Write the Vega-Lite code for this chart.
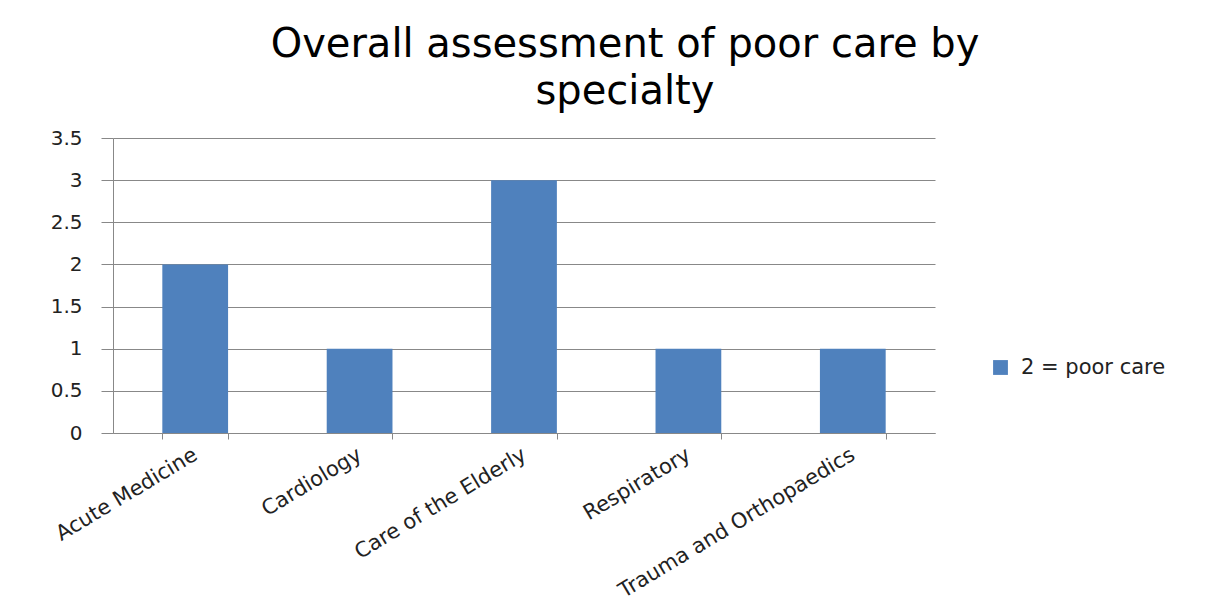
{
  "$schema": "https://vega.github.io/schema/vega-lite/v6.json",
  "width": 822,
  "height": 295,
  "autosize": "none",
  "padding": {"left": 113, "top": 138, "right": 297, "bottom": 179},
  "background": "white",
  "title": {
    "text": ["Overall assessment of poor care by", "specialty"],
    "font": "DejaVu Sans",
    "fontSize": 40,
    "fontWeight": "normal",
    "color": "#000000",
    "anchor": "middle",
    "frame": "group",
    "dx": 101,
    "offset": 16,
    "lineHeight": 47
  },
  "data": {
    "values": [
      {"specialty": "Acute Medicine", "count": 2, "series": "2 = poor care"},
      {"specialty": "Cardiology", "count": 1, "series": "2 = poor care"},
      {"specialty": "Care of the Elderly", "count": 3, "series": "2 = poor care"},
      {"specialty": "Respiratory", "count": 1, "series": "2 = poor care"},
      {"specialty": "Trauma and Orthopaedics", "count": 1, "series": "2 = poor care"}
    ]
  },
  "mark": {"type": "bar"},
  "encoding": {
    "x": {
      "field": "specialty",
      "type": "nominal",
      "sort": null,
      "scale": {"paddingInner": 0.6, "paddingOuter": 0.3},
      "axis": {
        "title": null,
        "tickBand": "extent",
        "tickSize": 6,
        "tickColor": "#888888",
        "domainColor": "#888888",
        "labelAngle": -31,
        "labelAlign": "right",
        "labelBaseline": "middle",
        "labelFont": "DejaVu Sans",
        "labelFontSize": 21,
        "labelColor": "#222222",
        "labelPadding": 14,
        "labelLimit": 0,
        "labelOverlap": false,
        "grid": false
      }
    },
    "y": {
      "field": "count",
      "type": "quantitative",
      "scale": {"domain": [0, 3.5], "nice": false},
      "axis": {
        "title": null,
        "values": [0, 0.5, 1, 1.5, 2, 2.5, 3, 3.5],
        "format": "~g",
        "grid": true,
        "gridColor": "#888888",
        "domainColor": "#888888",
        "tickColor": "#888888",
        "tickSize": 12,
        "labelPadding": 19,
        "labelFont": "DejaVu Sans",
        "labelFontSize": 20,
        "labelColor": "#222222"
      }
    },
    "color": {
      "field": "series",
      "type": "nominal",
      "scale": {"range": ["#4F81BD"]},
      "legend": {
        "title": null,
        "orient": "none",
        "legendX": 877,
        "legendY": 219,
        "symbolType": "square",
        "symbolSize": 220,
        "symbolStrokeWidth": 0,
        "labelFont": "DejaVu Sans",
        "labelFontSize": 21,
        "labelColor": "#222222",
        "labelOffset": 10,
        "labelLimit": 0
      }
    }
  },
  "config": {"view": {"stroke": null}}
}
